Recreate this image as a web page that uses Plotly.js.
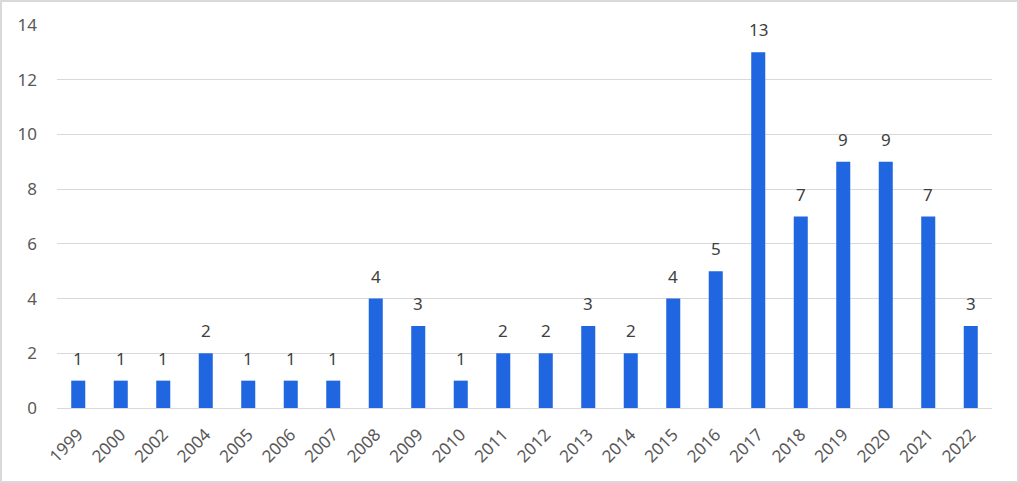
<!DOCTYPE html>
<html><head><meta charset="utf-8">
<script src="https://cdn.plot.ly/plotly-3.0.1.min.js"></script>
<style>html,body{margin:0;padding:0;background:#fff;}#wrap{position:relative;width:1019px;height:483px;}#frame{position:absolute;left:0;top:0;width:1015px;height:479px;border:2px solid #d9d9d9;pointer-events:none;}</style>
</head><body><div id="wrap"><div id="chart" style="width:1019px;height:483px;"></div><div id="frame"></div></div>
<script>
const years = ['1999','2000','2002','2004','2005','2006','2007','2008','2009','2010','2011','2012','2013','2014','2015','2016','2017','2018','2019','2020','2021','2022'];
const counts = [1,1,1,2,1,1,1,4,3,1,2,2,3,2,4,5,13,7,9,9,7,3];
const yTicks = [0,2,4,6,8,10,12,14];

// value labels: x is the category index on the category axis
const annotations = years.map((y, i) => ({
  x: i, y: counts[i], xref: 'x', yref: 'y', text: String(counts[i]),
  showarrow: false, yanchor: 'bottom', yshift: 9,
  font: {family: 'Noto Sans, sans-serif', size: 17, color: '#404040'}
}));

Plotly.newPlot('chart', [{
  type: 'bar', x: years, y: counts,
  marker: {color: '#1f66e0'},
  width: 0.33,
  cliponaxis: false, hoverinfo: 'none'
}], {
  width: 1019, height: 483,
  margin: {l: 57, r: 27, t: 25, b: 75},
  paper_bgcolor: '#fff', plot_bgcolor: '#fff',
  font: {family: 'Noto Sans, sans-serif', size: 17, color: '#595959'},
  showlegend: false,
  annotations: annotations,
  xaxis: {type: 'category', tickangle: -45, showgrid: false, zeroline: false,
          showline: true, linecolor: '#d9d9d9', linewidth: 1, ticks: '',
          range: [-0.5, years.length - 0.5], ticklabelstandoff: 9,
          tickfont: {size: 17, color: '#595959'}},
  yaxis: {range: [0, 14], tickvals: yTicks, showgrid: true, gridcolor: '#d9d9d9',
          zeroline: false, showline: false, ticks: '', ticklabelstandoff: 19,
          tickfont: {size: 17, color: '#595959'}}
}, {staticPlot: true});
</script></body></html>
